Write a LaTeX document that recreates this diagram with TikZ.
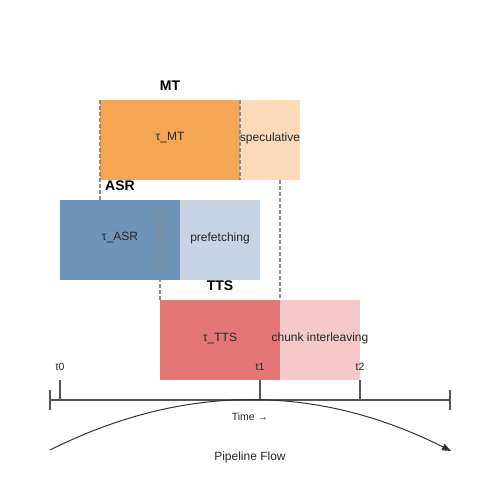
\documentclass[tikz,border=0pt]{standalone}
\usepackage{fontspec}
\setmainfont{Liberation Sans}
\usetikzlibrary{arrows.meta}
\definecolor{mtdark}{HTML}{F5A655}
\definecolor{mtlight}{HTML}{FCD9B8}
\definecolor{asrdark}{HTML}{7094B8}
\definecolor{asrlight}{HTML}{C7D4E3}
\definecolor{ttsdark}{HTML}{E57676}
\definecolor{ttslight}{HTML}{F5C8C9}
\definecolor{axisgray}{HTML}{555555}
\definecolor{dashgray}{HTML}{8C8C8C}
\tikzset{
  blk/.style={draw=none,inner sep=0pt,outer sep=0pt,minimum height=80pt},
  blktext/.style={font=\fontsize{12}{14}\selectfont,text=black!85,inner sep=0pt},
  stage/.style={font=\bfseries\fontsize{14}{16}\selectfont,inner sep=0pt},
  guide/.style={draw=dashgray,line width=1.1pt,dash pattern=on 4pt off 2pt},
  tick/.style={draw=axisgray,line width=1.5pt},
  small/.style={font=\fontsize{10.5}{12}\selectfont,inner sep=0pt,text=black!85}
}
\begin{document}
\begin{tikzpicture}[x=1pt,y=-1pt]
\useasboundingbox (0,0) rectangle (500,500);
% boxes
\node[blk,fill=mtdark,minimum width=140pt] (mt) at (170,140) {};
\node[blk,fill=mtlight,minimum width=60pt] (mts) at (270,140) {};
\node[blk,fill=asrdark,minimum width=120pt] (asr) at (120,240) {};
\node[blk,fill=asrlight,minimum width=80pt] (asrs) at (220,240) {};
\node[blk,fill=ttsdark,minimum width=120pt] (tts) at (220,340) {};
\node[blk,fill=ttslight,minimum width=80pt] (ttss) at (320,340) {};
% box texts
\node[blktext] (tmt) at (170,138) {τ\_MT};
\node[blktext] (tmts) at (270,138) {speculative};
\node[blktext] (tasr) at (120,238) {τ\_ASR};
\node[blktext] (tasrs) at (220,238) {prefetching};
\node[blktext] (ttts) at (220,338) {τ\_TTS};
\node[blktext] (tttss) at (320,338) {chunk interleaving};
% stage labels
\node[stage] (lmt) at (170,86) {MT};
\node[stage] (lasr) at (120,186) {ASR};
\node[stage] (ltts) at (220,286) {TTS};
% guides
\draw[guide] (mt.north west) -- (asr.north west -| mt.north west);
\draw[guide] (mt.north east) -- (mt.south east);
\draw[guide] (mts.south) ++(10,0) coordinate (g1) -- (g1 |- tts.north);
\draw[guide] (asr.north east) ++(-20,0) coordinate (g2) -- (g2 |- tts.north);
% axis
\coordinate (a0) at (50,400);
\coordinate (a1) at (450,400);
\draw[axisgray,line width=1.3pt] (a0) -- (a1);
\draw[tick] (50,390) -- (50,410);
\draw[tick] (450,390) -- (450,410);
\draw[tick] (60,380) -- (60,400);
\draw[tick] (260,380) -- (260,400);
\draw[tick] (360,380) -- (360,400);
\node[small] (t0) at (60,367) {t0};
\node[small] (t1) at (260,367) {t1};
\node[small] (t2) at (360,367) {t2};
\node[small] (tl) at (250,417) {Time →};
% flow arc
\coordinate (f0) at (50,450);
\coordinate (f1) at (451,451);
\draw[black!80,line width=1pt,-{Triangle[length=9pt,width=7pt]}] (f0) .. controls (183.3,383.3) and (316.7,383.3) .. (f1);
\node[font=\fontsize{12}{14}\selectfont,text=black!85] (pf) at (250,457) {Pipeline Flow};
\end{tikzpicture}
\end{document}
